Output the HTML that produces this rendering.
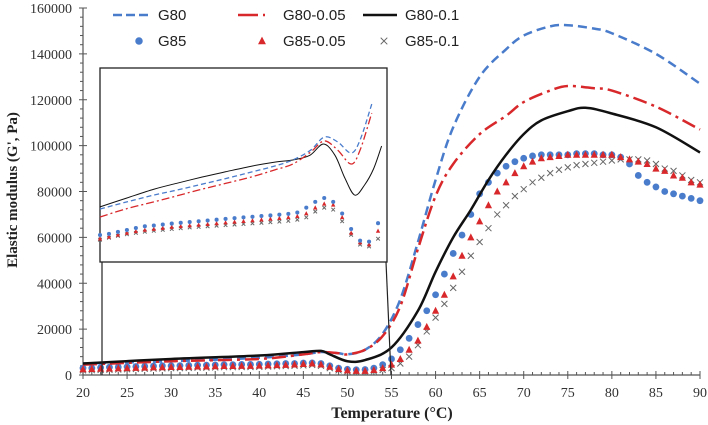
<!DOCTYPE html>
<html><head><meta charset="utf-8"><style>
html,body{margin:0;padding:0;background:#fff;}
svg{display:block;font-family:"Liberation Serif",serif;}
</style></head><body>
<svg id="chart" width="708" height="425" viewBox="0 0 708 425" xmlns="http://www.w3.org/2000/svg">
<g id="axes"></g>
<g id="series"></g>
<g id="inset"></g>
<g id="legend"></g>
<text x="392" y="418" text-anchor="middle" font-size="16" font-weight="bold" fill="#222">Temperature (°C)</text>
<text transform="translate(17,190) rotate(-90)" text-anchor="middle" font-size="15" font-weight="bold" fill="#222">Elastic modulus (G', Pa)</text>
</svg>
<script>
const xTicks=[20,25,30,35,40,45,50,55,60,65,70,75,80,85,90];
const yTicks=[0,20000,40000,60000,80000,100000,120000,140000,160000];
// line series (temperature, kPa)
const tG80=[20,30,40,45,47,49,50,52,54,56,58,60,62,65,68,70,73,75,78,80,85,90];
const vG80=[5,6,7.5,9,10,9.5,9,11,18,33,58,85,108,130,142,148,152,152.5,151,149,140,127];
const tG80_05=[20,30,40,45,47,49,50,52,54,56,58,60,62,65,68,70,73,75,78,80,85,90];
const vG80_05=[4.5,6,7,9,10,9.5,9,11,17,30,55,78,92,105,113,119,124,126,125,124,117,107];
const tG80_1=[20,30,40,45,47,48,50,52,55,58,60,62,64,66,68,70,72,75,77,80,85,90];
const vG80_1=[5,7,8.5,10,10.5,9,6,6.5,12,28,45,60,72,85,96,105,111,115,116.5,114,108,97];
// marker series: temps 20..90 step 1
const tMark=[];for(let t=20;t<=90;t++)tMark.push(t);
const vG85=[3,3,3.2,3.4,3.5,3.6,3.7,3.8,3.9,4,4,4.1,4.2,4.3,4.3,4.4,4.5,4.5,4.6,4.6,4.7,4.8,4.9,5,5,5.2,
5.3,5,4,3,2.5,2.3,2.4,3,4.5,7,11,16,22,28,35,44,53,61,70,79,84,88,91,93,94.5,95.5,96,96,96,96,96.5,96.5,96.5,96,96,95,92,87,84,82,80,79,78,77,76];
const vG85_05=[2.5,2.6,2.7,2.8,2.9,3,3.1,3.2,3.3,3.4,3.5,3.5,3.6,3.7,3.7,3.8,3.9,3.9,4,4,4.1,4.2,4.3,4.4,4.6,4.8,
5,4.6,3.6,2.6,2,1.8,1.8,2.2,3,4.5,7,11,15,21,28,35,43,52,60,67,74,80,84,88,91,93,94.5,95,95.5,96,96,96,96,96,96,95,94,93,92,90,89,87,86,84,83];
const vG85_1=[2,2.1,2.2,2.3,2.4,2.5,2.6,2.7,2.8,2.9,3,3,3.1,3.2,3.2,3.3,3.4,3.4,3.5,3.5,3.6,3.7,3.8,3.9,4,4.2,
4.4,4,3,2,1.5,1.3,1.3,1.6,2.2,3,5,8,13,19,25,31,38,45,52,58,64,70,74,78,81,84,86,88,89.5,90.5,91.5,92,92.5,93,93.5,94,94,94,93.5,92,90,89,87,85,84];
// inset (relative magnified units)
const tInL1=[22,25,28,30.5,33.4,36,39,41.5,43.5,45.4,46.9,48.2,49.3,50.4,51.5,52.5,53.4];
const vInBlack=[28.4,33,37.5,40.5,43.8,46.5,49.5,51.5,52.6,55,60.8,55,43.3,34.5,39.7,48,59.8];
const tInL2=[22,25,28,30.5,33,36,39,41.5,43.5,45.5,47,48.5,50,51,52.3];
const vInBlue=[27.3,31,34.5,37,39.7,43,46.5,49.5,52.6,57.7,64.4,61.9,56.2,62.9,81.4];
const vInRed=[23.2,27.5,31,34,37.1,40.5,44,47.5,50.5,56.7,62.4,57.7,50.5,57.7,76.8];
const tInM=[];for(let t=22;t<=53;t++)tInM.push(t);
const vInG85=[13.9,14.5,15.5,16.5,17.5,18.4,18.8,19.3,19.8,20.2,20.6,21,21.4,21.8,22.2,22.6,23,23.3,23.7,24,24.4,24.8,25.5,28,31,33,31,25,17,11,10.5,20];
const vInG85_05=[12,13,14,15,15.8,16.5,17,17.5,18,18.4,18.8,19.1,19.5,19.9,20.3,20.7,21,21.4,21.8,22.2,22.6,23,23.6,25,28,30,29.5,23,15,10,9,16];
const vInG85_1=[11.5,12.5,13.5,14.3,15,15.6,16.1,16.6,17,17.4,17.8,18.1,18.4,18.7,19,19.3,19.6,19.9,20.2,20.5,20.8,21.2,21.8,23,26,28,27,21,14,9,8,12];

const NS="http://www.w3.org/2000/svg";
const X=t=>83+(t-20)*(700-83)/70;
const Y=v=>375-v*1000*(375-8)/160000;
const IX=t=>100+(t-22)*(387-100)/32;
const IY=v=>262-v*194/100;
function mk(tag,attrs,parent){const e=document.createElementNS(NS,tag);for(const k in attrs)e.setAttribute(k,attrs[k]);parent.appendChild(e);return e;}
const axes=document.getElementById('axes'),ser=document.getElementById('series'),ins=document.getElementById('inset'),leg=document.getElementById('legend');

let a=mk('line',{x1:83,y1:8,x2:83,y2:375,stroke:'#555','stroke-width':1.2},axes);

a=mk('line',{x1:83,y1:375,x2:700,y2:375,stroke:'#555','stroke-width':1.2},axes);

for(let t=20;t<=90;t++){const maj=t%5===0;mk('line',{x1:X(t),x2:X(t),y1:maj?371:372,y2:maj?379:375,stroke:'#555','stroke-width':1},axes);}
for(let v=0;v<=160000;v+=4000){const maj=v%20000===0;mk('line',{x1:maj?79:80,x2:maj?87:83,y1:Y(v/1000),y2:Y(v/1000),stroke:'#555','stroke-width':1},axes);}
xTicks.forEach(t=>{const e=mk('text',{x:X(t),y:397,'text-anchor':'middle','font-size':14,fill:'#333'},axes);e.textContent=t;
});
yTicks.forEach(v=>{const e=mk('text',{x:72,y:Y(v/1000)+5,'text-anchor':'end','font-size':14,fill:'#333'},axes);e.textContent=v;
});

function smooth(pts){
  let d='M'+pts[0][0]+','+pts[0][1];
  for(let i=0;i<pts.length-1;i++){
    const p0=pts[Math.max(0,i-1)],p1=pts[i],p2=pts[i+1],p3=pts[Math.min(pts.length-1,i+2)];
    const c1x=p1[0]+(p2[0]-p0[0])/6,c1y=p1[1]+(p2[1]-p0[1])/6;
    const c2x=p2[0]-(p3[0]-p1[0])/6,c2y=p2[1]-(p3[1]-p1[1])/6;
    d+=`C${c1x},${c1y} ${c2x},${c2y} ${p2[0]},${p2[1]}`;}
  return d;}
function line(parent,ts,vs,fx,fy,stroke,w,dash,name){
  const pts=ts.map((t,i)=>[fx(t),fy(vs[i])]);
  const p=mk('path',{d:smooth(pts),fill:'none',stroke:stroke,'stroke-width':w,'stroke-dasharray':dash||'none','stroke-linejoin':'round'},parent);
  }
function marker(parent,type,x,y,s){
  if(type==='dot')return mk('circle',{cx:x,cy:y,r:3.4*s,fill:'#4a7ccc'},parent);
  if(type==='tri')return mk('polygon',{points:`${x},${y-4*s} ${x-3.6*s},${y+3*s} ${x+3.6*s},${y+3*s}`,fill:'#d8282b'},parent);
  const d=3*s;return mk('path',{d:`M${x-d},${y-d}L${x+d},${y+d}M${x-d},${y+d}L${x+d},${y-d}`,stroke:'#666','stroke-width':1},parent);}
function markers(parent,ts,vs,fx,fy,type,s,name){
  const g=mk('g',{},parent);
  ts.forEach((t,i)=>marker(g,type,fx(t),fy(vs[i]),s));}

markers(ser,tMark,vG85_1,X,Y,'x',1,'series-g85-0.1');
markers(ser,tMark,vG85,X,Y,'dot',1,'series-g85');
markers(ser,tMark,vG85_05,X,Y,'tri',1,'series-g85-0.05');
line(ser,tG80,vG80,X,Y,'#4a7ccc',2.5,'9,5','series-g80');
line(ser,tG80_05,vG80_05,X,Y,'#d8282b',2.5,'14,5,3,5','series-g80-0.05');
line(ser,tG80_1,vG80_1,X,Y,'#111',2.5,'','series-g80-0.1');

// inset
let r=mk('rect',{x:100,y:68,width:287,height:194,fill:'#fff',stroke:'#222','stroke-width':1.3},ins);

let c=mk('line',{x1:102,y1:262,x2:102,y2:375,stroke:'#222','stroke-width':1.2},ins);

c=mk('line',{x1:386,y1:262,x2:391,y2:375,stroke:'#222','stroke-width':1.2},ins);

markers(ins,tInM,vInG85_1,IX,IY,'x',0.6,'inset-g85-0.1');
markers(ins,tInM,vInG85_05,IX,IY,'tri',0.6,'inset-g85-0.05');
markers(ins,tInM,vInG85,IX,IY,'dot',0.6,'inset-g85');
line(ins,tInL1,vInBlack,IX,IY,'#111',1,'','inset-g80-0.1');
line(ins,tInL2,vInBlue,IX,IY,'#4a7ccc',1.3,'5,3','inset-g80');
line(ins,tInL2,vInRed,IX,IY,'#d8282b',1.3,'8,3,2,3','inset-g80-0.05');

// legend
const legItems=[['G80','dash','#4a7ccc',113,15,158],['G80-0.05','dashdot','#d8282b',238,15,283],['G80-0.1','solid','#111',363,15,405],
['G85','dot',0,139,41,158],['G85-0.05','tri',0,262,41,283],['G85-0.1','x',0,384,41,405]];
legItems.forEach(([lab,type,col,x,y,tx])=>{
  const g=mk('g',{},leg);
  if(type==='dash')mk('line',{x1:x,x2:x+36,y1:y,y2:y,stroke:col,'stroke-width':2.5,'stroke-dasharray':'9,4'},g);
  else if(type==='dashdot')mk('line',{x1:x,x2:x+32,y1:y,y2:y,stroke:col,'stroke-width':2.5,'stroke-dasharray':'20,5,2,5'},g);
  else if(type==='solid')mk('line',{x1:x,x2:x+34,y1:y,y2:y,stroke:col,'stroke-width':2.5},g);
  else marker(g,type,x,y,1.1);
  const t=mk('text',{x:tx,y:y+5,'font-size':15,fill:'#222','font-family':'Liberation Sans, sans-serif'},g);
  t.textContent=lab;});
</script>
</body></html>
